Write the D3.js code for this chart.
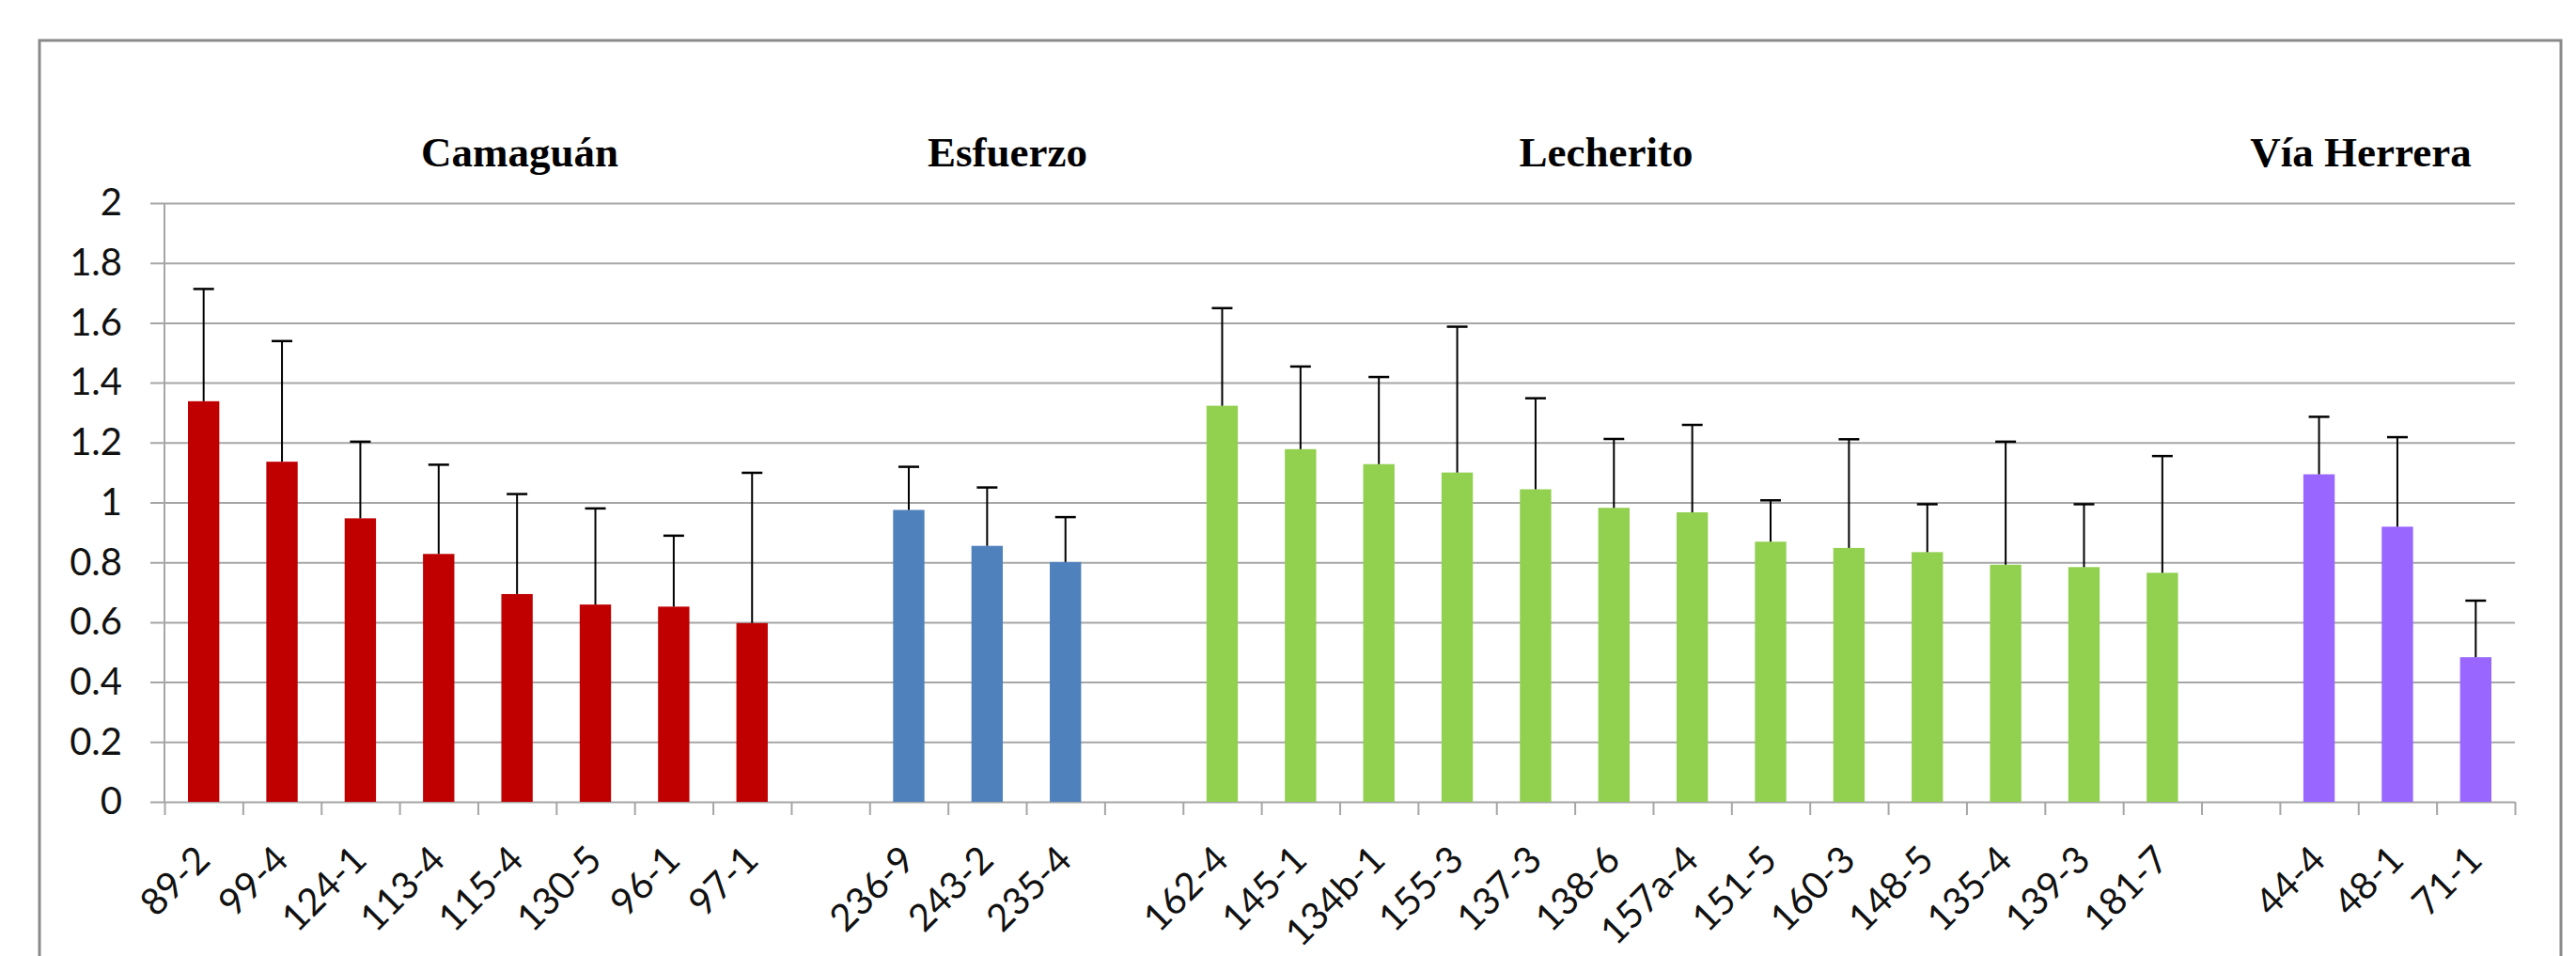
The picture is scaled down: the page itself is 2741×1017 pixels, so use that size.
<!DOCTYPE html>
<html>
<head>
<meta charset="utf-8">
<script src="https://cdn.jsdelivr.net/npm/d3@7"></script>
<style>
  html, body { margin: 0; padding: 0; background: #fff; }
  svg { display: block; }
</style>
</head>
<body>
<svg id="chart" width="2741" height="1017"></svg>
<script>
// Locality groups, in plotting order
const groupNames = ["Camaguán", "Esfuerzo", "Lecherito", "Vía Herrera"];
const groupColors = ["#C00000", "#4F81BD", "#92D050", "#9966FF"];

// Samples per locality
const camaguanSamples = ["89-2", "99-4", "124-1", "113-4", "115-4", "130-5", "96-1", "97-1"];
const esfuerzoSamples = ["236-9", "243-2", "235-4"];
const lecheritoSamples = ["162-4", "145-1", "134b-1", "155-3", "137-3", "138-6", "157a-4",
                          "151-5", "160-3", "148-5", "135-4", "139-3", "181-7"];
const viaHerreraSamples = ["44-4", "48-1", "71-1"];

// Mean values
const camaguanMeans = [1.338, 1.136, 0.947, 0.828, 0.694, 0.659, 0.652, 0.597];
const esfuerzoMeans = [0.975, 0.855, 0.801];
const lecheritoMeans = [1.323, 1.178, 1.128, 1.100, 1.044, 0.982, 0.967,
                        0.869, 0.848, 0.834, 0.792, 0.784, 0.765];
const viaHerreraMeans = [1.094, 0.919, 0.483];

// Upper error amounts
const camaguanErrors = [0.375, 0.403, 0.256, 0.298, 0.334, 0.321, 0.237, 0.502];
const esfuerzoErrors = [0.144, 0.195, 0.150];
const lecheritoErrors = [0.326, 0.276, 0.291, 0.487, 0.304, 0.230, 0.292,
                         0.138, 0.363, 0.160, 0.411, 0.210, 0.390];
const viaHerreraErrors = [0.192, 0.299, 0.189];

// Y axis ticks
const yTicks = [0, 0.2, 0.4, 0.6, 0.8, 1, 1.2, 1.4, 1.6, 1.8, 2];

// ---- flatten into one category axis, with an empty slot between localities ----
const samplesByGroup = [camaguanSamples, esfuerzoSamples, lecheritoSamples, viaHerreraSamples];
const meansByGroup = [camaguanMeans, esfuerzoMeans, lecheritoMeans, viaHerreraMeans];
const errorsByGroup = [camaguanErrors, esfuerzoErrors, lecheritoErrors, viaHerreraErrors];

const rows = [];
samplesByGroup.forEach((samples, g) => {
  if (g > 0) rows.push({ label: "", value: null, err: null, group: g });
  samples.forEach((s, i) => rows.push({
    label: s, value: meansByGroup[g][i], err: errorsByGroup[g][i], group: g
  }));
});

// ---- layout ----
const plotLeft = 175, plotRight = 2676, plotTop = 216, plotBottom = 853;
const svg = d3.select("#chart");

// outer frame
svg.append("rect")
  .attr("x", 42).attr("y", 43)
  .attr("width", 2683).attr("height", 1040)
  .attr("fill", "none")
  .attr("stroke", "#8a8a8a")
  .attr("stroke-width", 3);

const x = d3.scaleBand()
  .domain(d3.range(rows.length))
  .range([plotLeft, plotRight])
  .padding(0);

const slotEdge = d3.scaleLinear()
  .domain([0, rows.length])
  .range([plotLeft, plotRight]);

const y = d3.scaleLinear()
  .domain([0, 2])
  .range([plotBottom, plotTop]);

const fmt = d => String(+d.toFixed(1));

// gridlines + y labels (axis drawn from the right edge so the lines run across)
const yAxis = svg.append("g")
  .attr("transform", `translate(${plotRight},0)`)
  .call(d3.axisLeft(y)
    .tickValues(yTicks)
    .tickSize(plotRight - 160)
    .tickPadding(30)
    .tickFormat(fmt));
yAxis.select(".domain").remove();
yAxis.selectAll(".tick line")
  .attr("stroke", "#a6a6a6")
  .attr("stroke-width", 2);
yAxis.selectAll(".tick text")
  .attr("font-family", "Lato, 'Open Sans', sans-serif")
  .attr("font-size", 40)
  .attr("fill", "#111");

// vertical y axis line
svg.append("line")
  .attr("x1", plotLeft).attr("x2", plotLeft)
  .attr("y1", y(2)).attr("y2", y(0))
  .attr("stroke", "#a6a6a6")
  .attr("stroke-width", 2);

// category boundary ticks
const xAxis = svg.append("g")
  .attr("transform", `translate(0,${plotBottom})`)
  .call(d3.axisBottom(slotEdge)
    .tickValues(d3.range(rows.length + 1))
    .tickSize(14)
    .tickFormat(""));
xAxis.select(".domain").remove();
xAxis.selectAll(".tick line")
  .attr("stroke", "#a6a6a6")
  .attr("stroke-width", 2);

// bars
const barW = x.bandwidth() * 0.4;
const data = rows.filter(r => r.value !== null);
const idx = r => rows.indexOf(r);

svg.append("g").selectAll("rect")
  .data(data)
  .join("rect")
  .attr("x", r => x(idx(r)) + (x.bandwidth() - barW) / 2)
  .attr("y", r => y(r.value))
  .attr("width", barW)
  .attr("height", r => y(0) - y(r.value))
  .attr("fill", r => groupColors[r.group]);

// error bars (upper side only)
const capW = 22;
const eb = svg.append("g").attr("stroke", "#000");
eb.selectAll("line.stem")
  .data(data)
  .join("line")
  .attr("class", "stem")
  .attr("x1", r => x(idx(r)) + x.bandwidth() / 2)
  .attr("x2", r => x(idx(r)) + x.bandwidth() / 2)
  .attr("y1", r => y(r.value))
  .attr("y2", r => y(r.value + r.err))
  .attr("stroke-width", 2);
eb.selectAll("line.cap")
  .data(data)
  .join("line")
  .attr("class", "cap")
  .attr("x1", r => x(idx(r)) + x.bandwidth() / 2 - capW / 2)
  .attr("x2", r => x(idx(r)) + x.bandwidth() / 2 + capW / 2)
  .attr("y1", r => y(r.value + r.err))
  .attr("y2", r => y(r.value + r.err))
  .attr("stroke-width", 2.5);

// rotated category labels
svg.append("g").selectAll("text")
  .data(data)
  .join("text")
  .attr("transform", r =>
    `translate(${x(idx(r)) + x.bandwidth() / 2 + 9},${plotBottom + 64}) rotate(-45)`)
  .attr("text-anchor", "end")
  .attr("font-family", "Lato, 'Open Sans', sans-serif")
  .attr("font-size", 40)
  .attr("fill", "#111")
  .text(r => r.label);

// locality headings
const headingX = [553, 1072, 1709, 2512];
svg.append("g").selectAll("text")
  .data(groupNames)
  .join("text")
  .attr("x", (d, i) => headingX[i])
  .attr("y", 177)
  .attr("text-anchor", "middle")
  .attr("font-family", "'Liberation Serif', 'Times New Roman', serif")
  .attr("font-weight", "bold")
  .attr("font-size", 45)
  .attr("fill", "#000")
  .text(d => d);
</script>
</body>
</html>
